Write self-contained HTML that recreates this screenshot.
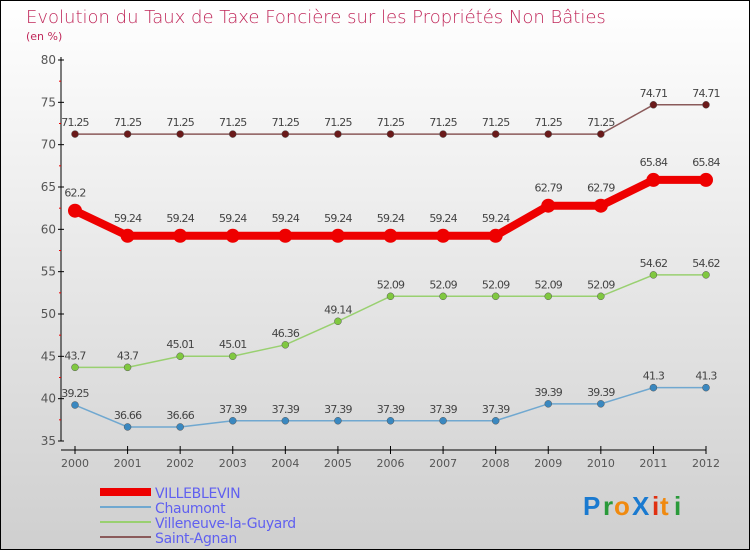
<!DOCTYPE html>
<html><head><meta charset="utf-8"><style>
body{margin:0}
#c{width:750px;height:550px;position:relative;overflow:hidden;background:linear-gradient(#ffffff,#cfcfcf);box-sizing:border-box;border:1px solid #000;font-family:"DejaVu Sans","Liberation Sans",sans-serif}
</style></head><body>
<div id="c">
<svg id="s" width="750" height="550" style="position:absolute;left:-1px;top:-1px">
<text x="26" y="23" font-size="18" fill="#c0285a" font-family="DejaVu Sans, sans-serif" style="font-weight:200">Evolution du Taux de Taxe Foncière sur les Propriétés Non Bâties</text>
<text x="26" y="40" font-size="11" fill="#c0285a">(en %)</text>
<g id="axes"></g><g id="series"></g><g id="legend"></g>
<g font-size="26" font-weight="bold" font-family="Liberation Sans, sans-serif">
<text x="583" y="515" fill="#1a7ad0">P</text><text x="603" y="515" fill="#2a9a3a">r</text><text x="614" y="515" fill="#f08a10">o</text><text x="632" y="515" fill="#1a7ad0">X</text><text x="652" y="515" fill="#e03010">i</text><text x="660" y="515" fill="#f08a10">t</text><text x="674" y="515" fill="#2a9a3a">i</text></g>
</svg></div>
<script>
const years=[2000,2001,2002,2003,2004,2005,2006,2007,2008,2009,2010,2011,2012];
const yTicks=[35,40,45,50,55,60,65,70,75,80];
const villeblevin=[62.2,59.24,59.24,59.24,59.24,59.24,59.24,59.24,59.24,62.79,62.79,65.84,65.84];
const chaumont=[39.25,36.66,36.66,37.39,37.39,37.39,37.39,37.39,37.39,39.39,39.39,41.3,41.3];
const villeneuve=[43.7,43.7,45.01,45.01,46.36,49.14,52.09,52.09,52.09,52.09,52.09,54.62,54.62];
const saintAgnan=[71.25,71.25,71.25,71.25,71.25,71.25,71.25,71.25,71.25,71.25,71.25,74.71,74.71];
const names=["VILLEBLEVIN","Chaumont","Villeneuve-la-Guyard","Saint-Agnan"];
const NS="http://www.w3.org/2000/svg";
const X=i=>75+i*(706-75)/(years.length-1);
const Y=v=>441-(v-35)*(441-60)/45;
function mk(p,t,a){const e=document.createElementNS(NS,t);for(const k in a)e.setAttribute(k,a[k]);p.appendChild(e);return e;}
const ax=document.getElementById('axes');
let e=mk(ax,'line',{x1:61,y1:57,x2:61,y2:441,stroke:'#000'});

e=mk(ax,'line',{x1:61,y1:450,x2:706,y2:450,stroke:'#000'});

yTicks.forEach((v,i)=>{mk(ax,'line',{x1:58,x2:64,y1:Y(v),y2:Y(v),stroke:'#000'});
 const t=mk(ax,'text',{x:56,y:Y(v)+4,'text-anchor':'end','font-size':12,fill:'#555'});t.textContent=v;
 
 if(i<yTicks.length-1)mk(ax,'line',{x1:59,x2:61,y1:Y(v+2.5),y2:Y(v+2.5),stroke:'#e00'});});
years.forEach((y,i)=>{mk(ax,'line',{x1:X(i),x2:X(i),y1:446,y2:454,stroke:'#000'});
 const t=mk(ax,'text',{x:X(i),y:467,'text-anchor':'middle','font-size':11,fill:'#555'});t.textContent=y;
 });
const sg=document.getElementById('series');
const defs=[[saintAgnan,'#8a5a5a','#6a1a1a',1.5,3.5,'saint-agnan'],[villeneuve,'#99d070','#80c840',1.5,3.5,'villeneuve'],[chaumont,'#70a8d0','#3a88c0',1.5,3.5,'chaumont'],[villeblevin,'#ee0000','#ee0000',8,7,'villeblevin']];
defs.forEach(([d,lc,pc,w,r,n])=>{
 const l=mk(sg,'polyline',{points:d.map((v,i)=>X(i)+','+Y(v)).join(' '),fill:'none',stroke:lc,'stroke-width':w});
 
 d.forEach((v,i)=>{const c=mk(sg,'circle',{cx:X(i),cy:Y(v),r:r,fill:pc,stroke:w>2?'none':'#555','stroke-width':0.5});
  
  const t=mk(sg,'text',{x:X(i),y:Y(v)-(w>2?14:8),'text-anchor':'middle','font-size':11,fill:'#444','letter-spacing':'-0.8'});t.textContent=v;
  });});
const lg=document.getElementById('legend');
[['#ee0000',8],['#70a8d0',2],['#99d070',2],['#8a5a5a',2]].forEach(([c,w],i)=>{
 const y=492+i*15;
 const ln=mk(lg,'line',{x1:100,x2:151,y1:y,y2:y,stroke:c,'stroke-width':w});
 
 const t=mk(lg,'text',{x:155,y:y+6,'font-size':14,fill:'#6060f0','letter-spacing':'-0.3'});t.textContent=names[i];
 });
</script>
</body></html>
